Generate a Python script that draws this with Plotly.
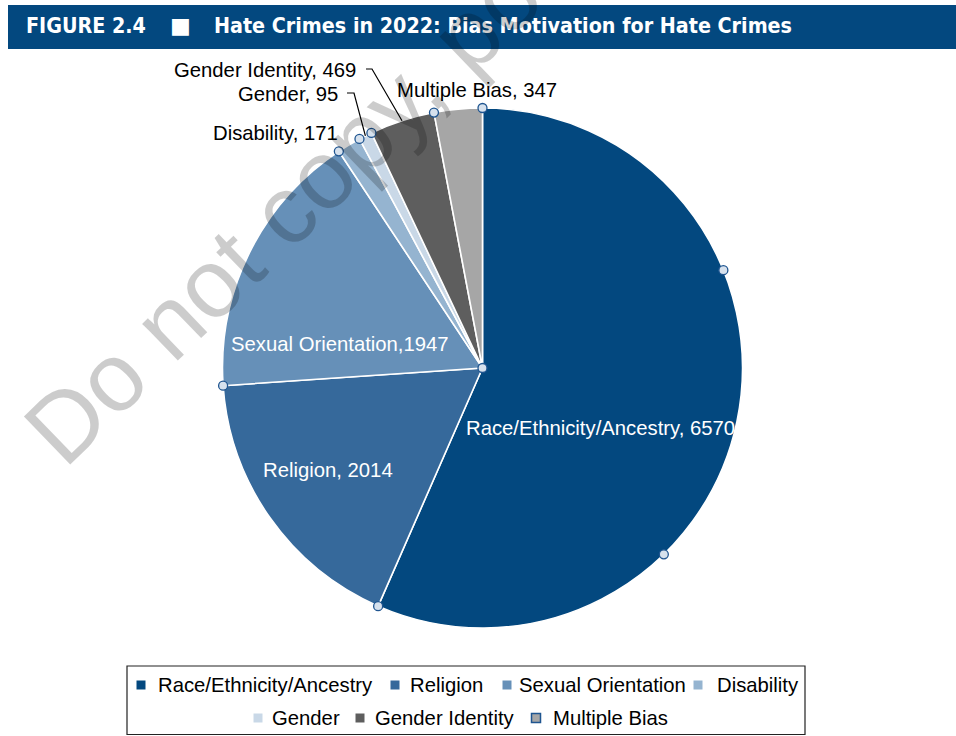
import math
import plotly.graph_objects as go

# Bias motivation categories and incident counts, 2022
categories = ["Race/Ethnicity/Ancestry", "Religion", "Sexual Orientation",
              "Disability", "Gender", "Gender Identity", "Multiple Bias"]
counts = [6570, 2014, 1947, 171, 95, 469, 347]
label_sep = [", ", ", ", ",", ", ", ", ", ", ", ", "]
colors = ["#03487f", "#36699b", "#6690b8", "#95b4d0", "#c9d8e7", "#5e5e5e", "#a6a6a6"]

fig_title_num = "FIGURE 2.4"
fig_title = "Hate Crimes in 2022: Bias Motivation for Hate Crimes"
watermark = "Do not copy, post, or distribute"

W, H = 956, 736
CX, CY, R = 482.5, 368, 260

TXT = "Liberation Sans, Arial, Helvetica, sans-serif"
FS = 20.3

fig = go.Figure()

# Pie, clockwise from 12 o'clock
fig.add_trace(go.Pie(
    labels=categories, values=counts, sort=False, direction="clockwise", rotation=0,
    marker=dict(colors=colors, line=dict(color="white", width=1.6)),
    textinfo="none", hoverinfo="label+value", showlegend=False,
    domain=dict(x=[(CX - R) / W, (CX + R) / W], y=[1 - (CY + R) / H, 1 - (CY - R) / H]),
))

# Hidden pixel-space axes for overlays
fig.update_layout(
    xaxis=dict(range=[0, W], visible=False, fixedrange=True, domain=[0, 1]),
    yaxis=dict(range=[H, 0], visible=False, fixedrange=True, domain=[0, 1]),
)

total = sum(counts)
bounds = [0.0]
for c in counts:
    bounds.append(bounds[-1] + c / total * 360.0)


def rim(theta, rad=R):
    t = math.radians(theta)
    return CX + rad * math.sin(t), CY - rad * math.cos(t)


shapes = []
# title bar
shapes.append(dict(type="rect", xref="paper", yref="paper", x0=8 / W, x1=1.0,
                   y0=1 - 49 / H, y1=1 - 5 / H, fillcolor="#03487f", line=dict(width=0), layer="below"))

# leader lines for the two narrow slices
leader_ends = {"Gender": (347, 93, 354), "Gender Identity": (366, 69, 372)}
for i, name in enumerate(categories):
    if name in leader_ends:
        x0, y0, xk = leader_ends[name]
        mx, my = rim((bounds[i] + bounds[i + 1]) / 2)
        shapes.append(dict(type="path", xref="x", yref="y",
                           path=f"M{x0},{y0} L{xk},{y0} L{mx:.1f},{my:.1f}",
                           line=dict(color="black", width=1.2), layer="above"))

# arc nodes: slice boundaries, arcs split into <=90 degree pieces, and the centre
nodes = [(CX, CY)]
for i in range(len(counts)):
    a0, a1 = bounds[i], bounds[i + 1]
    n = max(1, math.ceil((a1 - a0) / 90.0 - 1e-9))
    for k in range(n):
        nodes.append(rim(a0 + (a1 - a0) * k / n))
nr = 4.5
for (x, y) in nodes:
    shapes.append(dict(type="circle", xref="x", yref="y", x0=x - nr, x1=x + nr, y0=y - nr, y1=y + nr,
                       fillcolor="#d6e1ed", line=dict(color="#1f5590", width=1.3), layer="above"))

# legend frame
shapes.append(dict(type="rect", xref="x", yref="y", x0=127, x1=805, y0=666, y1=734.5,
                   line=dict(color="#222222", width=1.2), fillcolor="rgba(0,0,0,0)", layer="below"))

annotations = []
# title
TFONT = "DejaVu Sans Condensed, DejaVu Sans"
annotations.append(dict(xref="paper", yref="paper", x=24 / W, y=1 - 26 / H, xanchor="left", yanchor="middle",
                        text=f"<b>{fig_title_num}</b>", showarrow=False,
                        font=dict(family=TFONT, size=21.3, color="white")))
annotations.append(dict(xref="paper", yref="paper", x=180 / W, y=1 - 26 / H, xanchor="center", yanchor="middle",
                        text="■", showarrow=False,
                        font=dict(family="DejaVu Sans", size=22, color="white")))
annotations.append(dict(xref="paper", yref="paper", x=212 / W, y=1 - 26 / H, xanchor="left", yanchor="middle",
                        text=f"<b>{fig_title}</b>", showarrow=False,
                        font=dict(family=TFONT, size=21.3, color="white")))

# slice labels: (x, y, anchor, colour)
label_pos = [(600, 428, "center", "white"), (328, 470, "center", "white"), (340, 344, "center", "white"),
             (340, 133, "right", "black"), (340, 94, "right", "black"), (358, 70, "right", "black"),
             (477, 90, "center", "black")]
for name, v, sep, (lx, ly, anc, col) in zip(categories, counts, label_sep, label_pos):
    annotations.append(dict(xref="x", yref="y", x=lx, y=ly, xanchor=anc, yanchor="middle",
                            text=f"{name}{sep}{v}", showarrow=False,
                            font=dict(family=TXT, size=FS, color=col)))

# legend entries
leg_sq_x = [141, 395, 507, 698, 258, 360, 536]
leg_tx_x = [156, 408, 517, 715, 270, 373, 551]
leg_y = [685, 685, 685, 685, 718, 718, 718]
fig.add_trace(go.Scatter(
    x=leg_sq_x, y=leg_y, mode="markers", hoverinfo="skip", showlegend=False,
    marker=dict(symbol="square", size=9, color=colors,
                line=dict(color=["rgba(0,0,0,0)"] * 6 + ["#1f5590"], width=[0] * 6 + [1.5])),
))
for name, x, y in zip(categories, leg_tx_x, leg_y):
    annotations.append(dict(xref="x", yref="y", x=x, y=y, xanchor="left", yanchor="middle",
                            text=name, showarrow=False, font=dict(family=TXT, size=FS, color="black")))

# watermark on top
annotations.append(dict(xref="paper", yref="paper", x=512 / W, y=1 - (-8) / H, xanchor="center", yanchor="middle",
                        text=watermark, showarrow=False, textangle=-44,
                        font=dict(family=TXT, size=97, color="rgba(0,0,0,0.2)")))

fig.update_layout(
    width=W, height=H, margin=dict(l=0, r=0, t=0, b=0),
    paper_bgcolor="white", plot_bgcolor="white",
    shapes=shapes, annotations=annotations, showlegend=False,
)

fig.write_html("out.html")
